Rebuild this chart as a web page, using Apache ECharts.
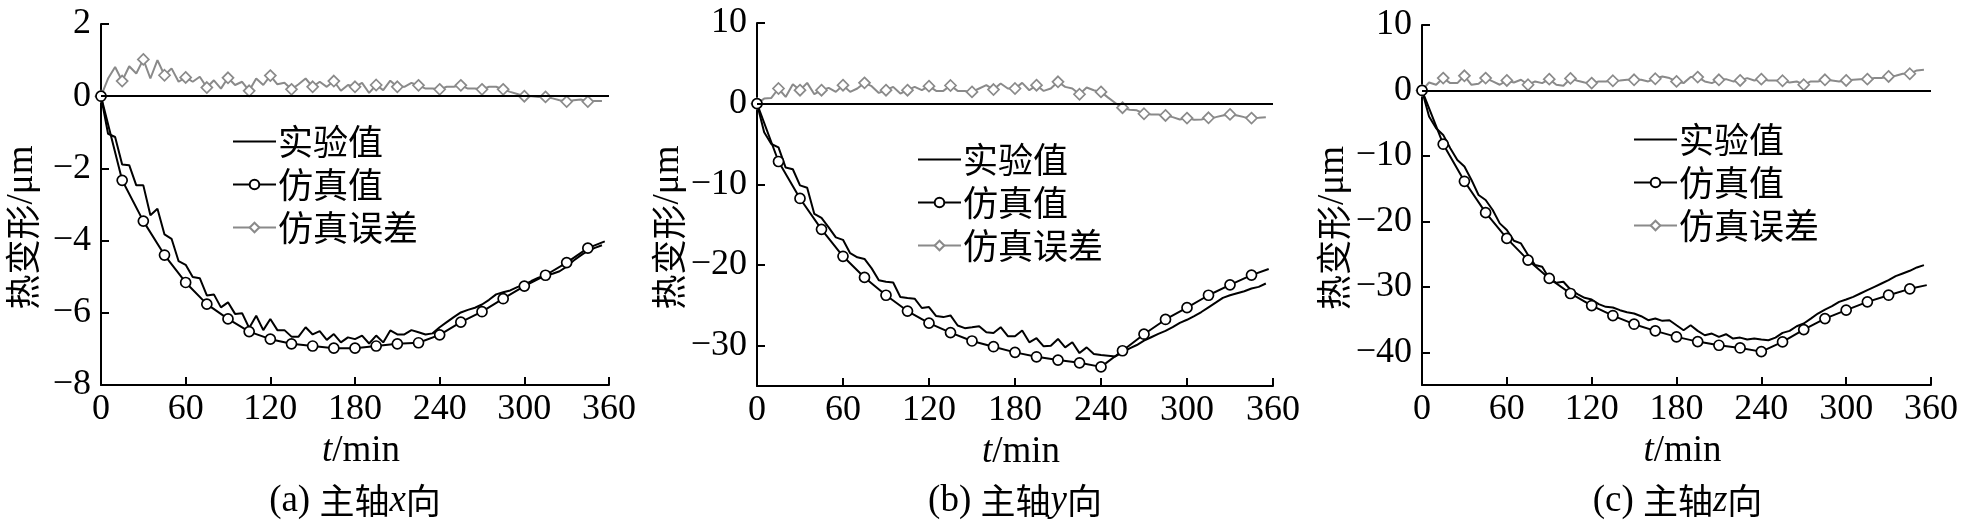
<!DOCTYPE html>
<html><head><meta charset="utf-8">
<script src="https://cdn.jsdelivr.net/npm/echarts@6/dist/echarts.min.js"></script>
<style>html,body{margin:0;padding:0;background:#fff}#c{width:1961px;height:520px}</style>
</head><body><div id="c"></div>
<script>
// ---- data ----
const EXP_T = [0,5,10,15,20,25,30,35,40,45,50,55,60,65,70,75,80,85,90,95,100,105,110,115,120,125,130,135,140,145,150,155,160,165,170,175,180,185,190,195,200,205,210,215,220,225,230,235,240,245,250,255,260,265,270,275,280,285,290,295,300,305,310,315,320,325,330,335,340,345,350,355];
const SIM_T = [0,15,30,45,60,75,90,105,120,135,150,165,180,195,210,225,240,255,270,285,300,315,330,345,357];
const SERIES_NAMES = ['实验值','仿真值','仿真误差'];
const X_TICKS = [0,60,120,180,240,300,360];

const A_EXP = [0,-1.04,-1.13,-1.89,-1.91,-2.47,-2.47,-3.30,-3.12,-3.83,-3.95,-4.57,
  -4.67,-5.01,-5.04,-5.52,-5.49,-5.85,-5.71,-6.03,-6.01,-6.42,-6.08,-6.48,
  -6.17,-6.48,-6.48,-6.66,-6.66,-6.40,-6.60,-6.51,-6.75,-6.59,-6.82,-6.68,
  -6.73,-6.63,-6.85,-6.63,-6.82,-6.49,-6.60,-6.60,-6.48,-6.54,-6.60,-6.57,
  -6.40,-6.26,-6.12,-5.99,-5.92,-5.86,-5.77,-5.64,-5.49,-5.43,-5.38,-5.29,
  -5.22,-5.12,-5.03,-4.96,-4.92,-4.85,-4.72,-4.55,-4.41,-4.28,-4.20,-4.13];
const A_SIM = [0,-2.33,-3.46,-4.40,-5.16,-5.76,-6.17,-6.52,-6.73,-6.86,-6.92,-6.98,-6.98,-6.92,-6.86,-6.83,-6.61,-6.26,-5.97,-5.61,-5.26,-4.96,-4.61,-4.21,-4.02];
const A_ERR = [0,0.49,0.81,0.42,0.83,0.63,1.02,0.49,1.0,0.58,0.77,0.40,
  0.52,0.40,0.54,0.24,0.44,0.21,0.51,0.31,0.40,0.15,0.49,0.31,
  0.57,0.33,0.37,0.19,0.33,0.49,0.26,0.40,0.26,0.42,0.15,0.31,
  0.26,0.37,0.09,0.31,0.17,0.43,0.26,0.26,0.37,0.30,0.21,0.21,
  0.19,0.26,0.26,0.30,0.21,0.21,0.19,0.26,0.26,0.19,0.12,0.06,
  0,0,-0.02,-0.02,-0.06,-0.11,-0.15,-0.11,-0.09,-0.15,-0.13,-0.13];

const B_EXP = [0,-3.54,-5.0,-5.42,-7.92,-8.13,-10.13,-10.42,-13.67,-14.17,-15.33,-16.58,
  -16.88,-18.54,-19.04,-19.25,-20.42,-21.88,-22.08,-22.17,-23.96,-24.08,-24.17,-25.33,
  -25.21,-26.33,-26.46,-26.25,-27.5,-27.83,-27.71,-27.58,-28.33,-28.42,-27.71,-28.83,
  -28.83,-28.13,-29.58,-29.08,-30.08,-30.0,-29.17,-30.21,-29.58,-30.92,-30.21,-31.04,
  -31.17,-31.25,-31.33,-30.83,-30.33,-29.92,-29.38,-28.96,-28.54,-28.17,-27.71,-27.17,
  -26.79,-26.33,-25.83,-25.25,-24.67,-24.08,-23.75,-23.5,-23.25,-22.92,-22.71,-22.29];
const B_SIM = [0,-7.17,-11.75,-15.58,-18.92,-21.54,-23.75,-25.71,-27.21,-28.38,-29.42,-30.13,-30.83,-31.38,-31.79,-32.13,-32.63,-30.63,-28.58,-26.75,-25.29,-23.75,-22.46,-21.25,-20.5];
const B_ERR = [0,0.63,0.71,1.88,0.83,2.42,1.67,2.58,1.17,1.67,1.96,1.46,
  2.29,1.46,1.88,2.58,2.17,1.33,1.67,2.08,1.25,1.67,2.08,1.67,
  2.17,1.58,1.58,2.25,1.58,1.58,1.46,1.88,2.29,1.75,2.5,1.88,
  1.88,2.58,1.67,2.29,1.58,1.88,2.71,2.08,1.88,1.17,2.0,1.67,
  1.46,0.75,0.08,-0.5,-0.75,-0.83,-1.25,-1.33,-1.33,-1.46,-1.67,-1.96,
  -1.79,-2.0,-1.96,-1.75,-1.67,-1.46,-1.33,-1.46,-1.67,-1.79,-1.75,-1.67];

const C_EXP = [0,-3.98,-5.77,-6.79,-8.83,-10.61,-11.63,-13.67,-15.97,-16.73,-18.27,-20.31,
  -21.33,-22.96,-23.37,-25.15,-26.68,-26.94,-28.72,-29.39,-29.23,-30.41,-31.12,-31.68,
  -31.94,-32.65,-33.06,-33.16,-33.57,-33.88,-34.08,-34.49,-35.10,-34.85,-35.20,-35.10,
  -35.87,-36.63,-35.87,-36.73,-37.40,-37.14,-37.65,-37.24,-37.91,-37.76,-38.06,-37.91,
  -38.06,-38.16,-37.76,-37.04,-36.73,-36.02,-35.61,-34.85,-34.08,-33.47,-32.96,-32.30,
  -31.94,-31.53,-31.02,-30.51,-30.00,-29.49,-28.98,-28.37,-27.96,-27.55,-27.04,-26.68];
const C_SIM = [0,-8.21,-13.88,-18.67,-22.60,-25.92,-28.72,-31.02,-32.86,-34.39,-35.71,-36.73,-37.65,-38.37,-38.93,-39.34,-39.90,-38.42,-36.53,-34.85,-33.57,-32.30,-31.28,-30.31,-29.74];
const C_ERR = [0,1.22,0.87,1.89,1.12,1.12,2.24,0.87,1.02,1.89,1.38,0.87,
  1.53,1.22,1.63,0.87,1.38,1.12,1.73,0.87,0.71,1.84,1.48,1.22,
  1.12,1.38,1.38,1.48,1.53,1.63,1.63,1.63,1.38,1.79,2.14,1.89,
  1.38,1.12,2.04,2.04,1.38,1.12,1.63,1.73,1.38,1.53,1.89,1.53,
  1.73,1.53,1.53,1.48,1.22,1.38,0.87,1.38,1.38,1.63,1.53,1.38,
  1.53,1.63,1.73,1.73,1.89,1.89,2.14,2.24,2.55,2.55,3.06,3.16];

const A_Y_TICKS = [-8,-6,-4,-2,0,2];
const B_Y_TICKS = [-30,-20,-10,0,10];
const C_Y_TICKS = [-40,-30,-20,-10,0,10];
const A_Y_RANGE = [-8,2];
const B_Y_RANGE = [-35,10];
const C_Y_RANGE = [-45,10];

const Y_TITLE_CJK = '热变形';
const Y_TITLE_UNIT = '/μm';
const X_TITLE_VAR = 't';
const X_TITLE_UNIT = '/min';
const CAPTIONS = [['(a) ','主轴','x','向'],['(b) ','主轴','y','向'],['(c) ','主轴','z','向']];

// ---- layout / style ----
const SERIF = '"Liberation Serif","Times New Roman",serif';
const CJK = '"Noto Sans CJK SC","Noto Sans CJK JP",sans-serif';
const GRAY = '#8a8a8a';
const FS_NUM = 36, FS_SERIF = 37, FS_CJK = 35;
const panels = [
  {exp:A_EXP, sim:A_SIM, err:A_ERR, ticks:A_Y_TICKS, range:A_Y_RANGE, grid:{left:101,top:24,width:508,height:361}, legend:{left:232,top:124}},
  {exp:B_EXP, sim:B_SIM, err:B_ERR, ticks:B_Y_TICKS, range:B_Y_RANGE, grid:{left:757,top:23,width:516,height:363}, legend:{left:917,top:142}},
  {exp:C_EXP, sim:C_SIM, err:C_ERR, ticks:C_Y_TICKS, range:C_Y_RANGE, grid:{left:1422,top:25,width:511,height:360}, legend:{left:1633,top:122}}
];

const fmt = v => String(v).replace('-', '\u2212');
const option = {animation:false, backgroundColor:'#fff', grid:[], xAxis:[], yAxis:[], series:[], legend:[], graphic:[]};

panels.forEach((p, i) => {
  option.grid.push(Object.assign({containLabel:false}, p.grid));
  option.xAxis.push({
    type:'value', gridIndex:i, min:X_TICKS[0], max:X_TICKS[X_TICKS.length-1], interval:60,
    axisLine:{show:true, onZero:false, lineStyle:{color:'#000', width:2}},
    axisTick:{show:true, inside:true, length:8, lineStyle:{color:'#000', width:2}},
    axisLabel:{color:'#000', fontFamily:SERIF, fontSize:FS_NUM, margin:7, formatter:fmt},
    splitLine:{show:false},
    name:'{i|' + X_TITLE_VAR + '}{n|' + X_TITLE_UNIT + '}', nameLocation:'middle', nameGap:43,
    nameTextStyle:{color:'#000', fontFamily:SERIF, fontSize:FS_SERIF, padding:[0,0,0,12],
      rich:{i:{fontFamily:SERIF, fontStyle:'italic', fontSize:FS_SERIF, color:'#000'}, n:{fontFamily:SERIF, fontSize:FS_SERIF, color:'#000'}}}
  });
  option.yAxis.push({
    type:'value', gridIndex:i, min:p.range[0], max:p.range[1],
    axisLine:{show:true, onZero:false, lineStyle:{color:'#000', width:2}},
    axisTick:{show:true, inside:true, length:8, customValues:p.ticks, lineStyle:{color:'#000', width:2}},
    axisLabel:{color:'#000', fontFamily:SERIF, fontSize:FS_NUM, margin:10, formatter:fmt, customValues:p.ticks},
    splitLine:{show:false},
    name:'{c|' + Y_TITLE_CJK + '}{u|' + Y_TITLE_UNIT + '}', nameLocation:'middle', nameGap:60,
    nameTextStyle:{color:'#000', fontSize:FS_CJK, padding:[0,46,0,0],
      rich:{c:{fontFamily:CJK, fontSize:FS_CJK, color:'#000'}, u:{fontFamily:SERIF, fontSize:FS_SERIF, color:'#000'}}}
  });
  option.series.push({
    name:SERIES_NAMES[0], type:'line', xAxisIndex:i, yAxisIndex:i, symbol:'none',
    lineStyle:{color:'#000', width:2}, itemStyle:{color:'#000'},
    data:EXP_T.map((t, k) => [t, p.exp[k]]),
    markLine:{silent:true, symbol:'none', label:{show:false}, lineStyle:{color:'#000', width:2, type:'solid'}, data:[{yAxis:0}]},
    z:3
  });
  option.series.push({
    name:SERIES_NAMES[1], type:'line', xAxisIndex:i, yAxisIndex:i, symbol:'circle', symbolSize:10,
    lineStyle:{color:'#000', width:2}, itemStyle:{color:'#fff', borderColor:'#000', borderWidth:1.7},
    data:SIM_T.map((t, k) => k === SIM_T.length - 1 ? {value:[t, p.sim[k]], symbol:'none'} : [t, p.sim[k]]),
    z:4
  });
  option.series.push({
    name:SERIES_NAMES[2], type:'line', xAxisIndex:i, yAxisIndex:i, symbol:'diamond', symbolSize:11,
    lineStyle:{color:GRAY, width:2}, itemStyle:{color:'#fff', borderColor:GRAY, borderWidth:1.7},
    data:EXP_T.map((t, k) => k % 3 === 0 ? [t, p.err[k]] : {value:[t, p.err[k]], symbol:'none'}),
    z:2
  });
  option.legend.push({
    left:p.legend.left, top:p.legend.top, orient:'vertical', itemGap:8, itemWidth:43, itemHeight:12,
    selectedMode:false, padding:0,
    data:[{name:SERIES_NAMES[0], itemStyle:{opacity:0}}, {name:SERIES_NAMES[1]}, {name:SERIES_NAMES[2]}],
    textStyle:{color:'#000', fontFamily:CJK, fontSize:FS_CJK, padding:[0,0,0,-3]}
  });
  const cx = p.grid.left + p.grid.width / 2;
  const cap = CAPTIONS[i];
  option.graphic.push({
    type:'text', x:cx, y:501,
    style:{
      text:'{p|' + cap[0] + '}{c|' + cap[1] + '}{i|' + cap[2] + '}{c|' + cap[3] + '}',
      align:'center', verticalAlign:'middle',
      rich:{
        p:{fontFamily:SERIF, fontSize:FS_SERIF, fill:'#000'},
        c:{fontFamily:CJK, fontSize:FS_CJK, fill:'#000'},
        i:{fontFamily:SERIF, fontStyle:'italic', fontSize:FS_SERIF, fill:'#000'}
      }
    }
  });
});

const chart = echarts.init(document.getElementById('c'));
chart.setOption(option);
</script>
</body></html>
